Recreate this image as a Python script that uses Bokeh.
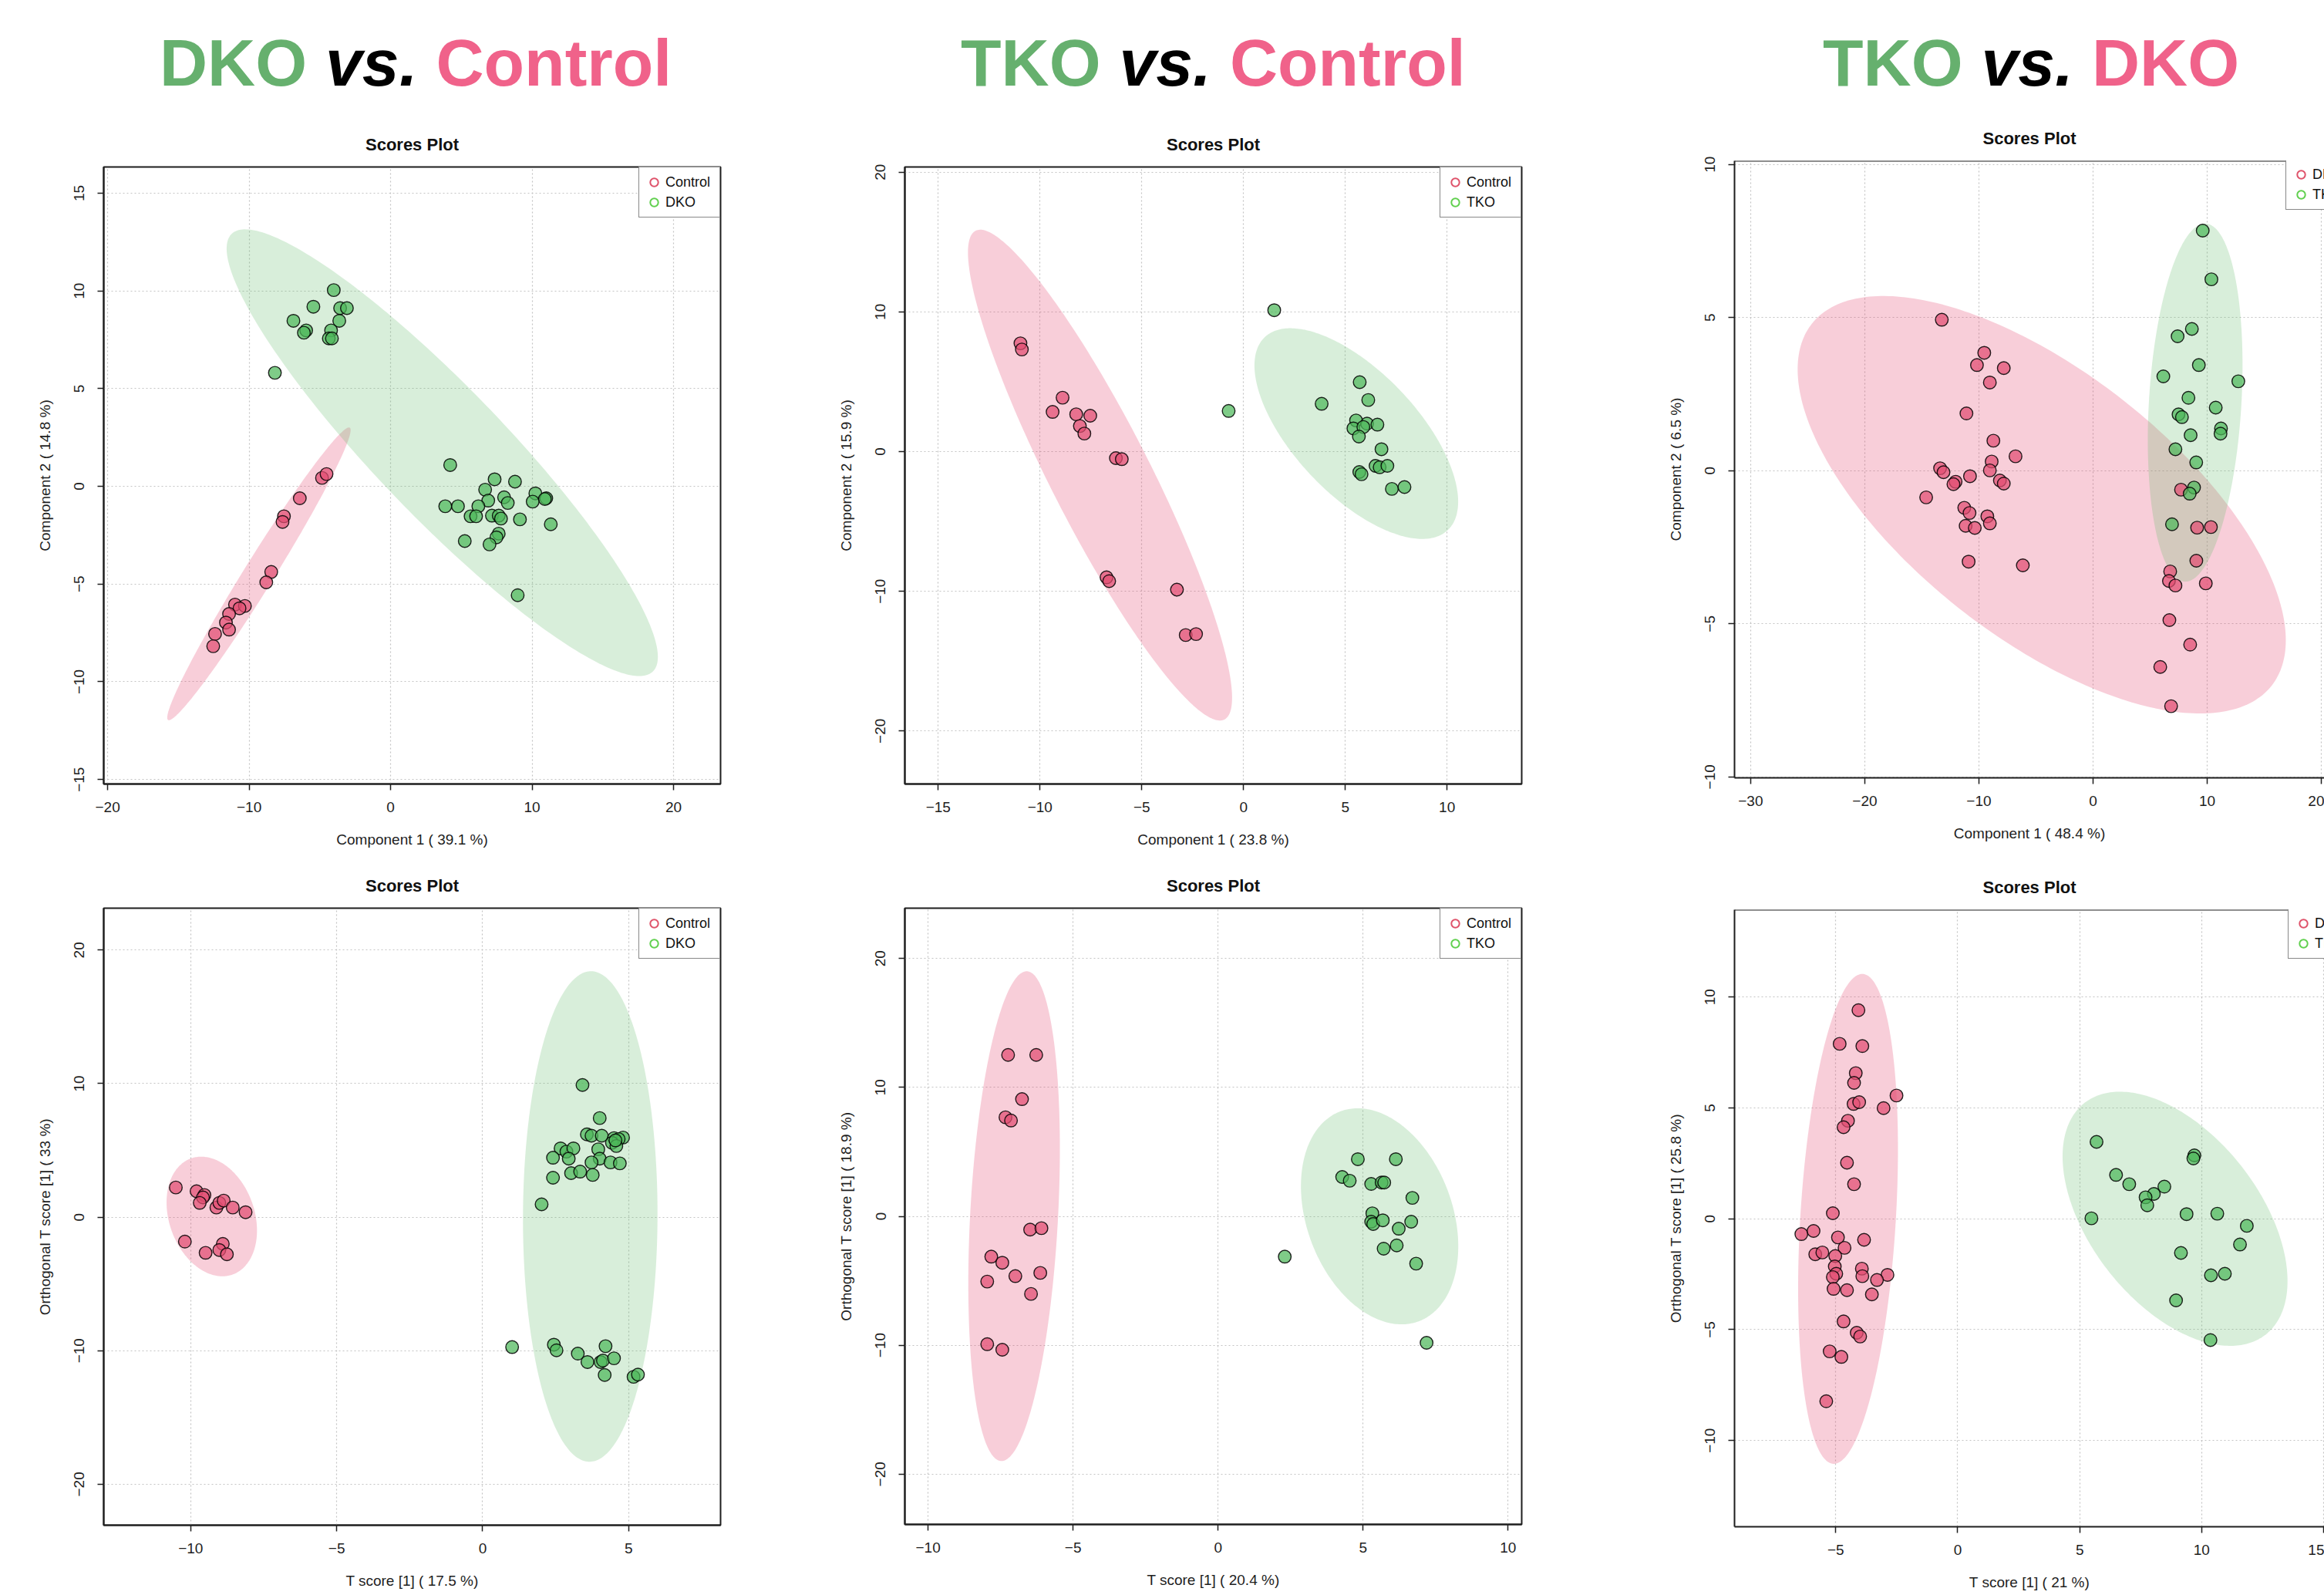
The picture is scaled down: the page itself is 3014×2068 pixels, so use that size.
import numpy as np
from bokeh.plotting import figure
from bokeh.models import Range1d, FixedTicker, Legend, LegendItem, Span, Div
from bokeh.layouts import column, row
from bokeh.embed import file_html
from bokeh.resources import INLINE

# ---------------- data ----------------
# Panel 1: DKO vs Control, PLS-DA
p1_control_x = [-4.85, -4.53, -6.42, -7.54, -7.64, -8.44, -8.79, -11.00, -10.30, -10.68, -11.42, -11.64, -11.42, -12.41, -12.54]
p1_control_y = [0.43, 0.63, -0.61, -1.53, -1.82, -4.38, -4.91, -6.05, -6.12, -6.24, -6.53, -6.97, -7.33, -7.55, -8.18]
p1_dko_x = [-4.02, -5.46, -3.57, -3.09, -6.87, -5.97, -6.13, -3.63, -4.21, -4.37, -4.15, -8.18,
            4.21, 7.35, 8.79, 6.68, 10.23, 11.00, 10.90, 8.02, 10.04, 6.90, 8.28, 3.86, 4.76, 6.20,
            5.65, 6.04, 7.16, 7.64, 7.80, 9.14, 11.32, 7.64, 7.48, 5.24, 6.99, 8.98]
p1_dko_y = [10.04, 9.19, 9.12, 9.12, 8.47, 7.98, 7.86, 8.47, 7.98, 7.57, 7.57, 5.81,
            1.09, 0.36, 0.24, -0.17, -0.36, -0.61, -0.65, -0.56, -0.78, -0.73, -0.85, -1.02, -1.02, -1.02,
            -1.53, -1.53, -1.50, -1.50, -1.65, -1.69, -1.94, -2.42, -2.61, -2.80, -2.97, -5.57]

# Panel 2: TKO vs Control, PLS-DA
p2_control_x = [-10.96, -10.89, -8.89, -9.38, -8.22, -7.53, -8.04, -7.82, -6.27, -5.98, -6.73, -6.60, -3.27, -2.84, -2.33]
p2_control_y = [7.75, 7.31, 3.86, 2.84, 2.67, 2.57, 1.83, 1.29, -0.47, -0.54, -9.00, -9.27, -9.88, -13.13, -13.06]
p2_tko_x = [1.51, -0.73, 5.71, 3.84, 6.13, 5.53, 6.07, 6.58, 5.40, 5.89, 5.67, 6.78, 6.49, 6.69, 7.07, 5.69, 5.80, 7.29, 7.91]
p2_tko_y = [10.12, 2.91, 4.97, 3.42, 3.69, 2.23, 2.00, 1.93, 1.66, 1.76, 1.08, 0.17, -1.02, -1.12, -1.02, -1.46, -1.62, -2.67, -2.54]

# Panel 3: TKO vs DKO, PLS-DA
p3_dko_x = [-13.25, -9.53, -10.17, -7.82, -9.04, -11.09, -8.73, -6.79, -8.88, -13.40, -13.10, -9.04, -10.78,
            -12.04, -12.23, -8.16, -7.82, -14.62, -11.28, -10.82, -9.26, -9.04, -11.16, -10.36, -10.90, -6.15,
            7.71, 9.12, 10.33, 9.05, 6.76, 6.65, 7.22, 9.88, 6.69, 8.51, 5.89, 6.84]
p3_dko_y = [4.93, 3.85, 3.45, 3.35, 2.88, 1.87, 0.98, 0.47, 0.30, 0.08, -0.05, 0.01, -0.18,
            -0.36, -0.44, -0.32, -0.42, -0.87, -1.21, -1.38, -1.49, -1.72, -1.80, -1.87, -2.97, -3.09,
            -0.62, -1.86, -1.84, -2.94, -3.29, -3.60, -3.75, -3.68, -4.88, -5.68, -6.41, -7.69]
p3_tko_x = [9.61, 10.37, 8.66, 7.41, 9.27, 6.16, 12.73, 8.36, 10.75, 7.49, 7.79, 11.21, 11.17, 8.55, 7.22, 9.04, 8.85, 8.47, 6.92]
p3_tko_y = [7.84, 6.25, 4.63, 4.39, 3.45, 3.08, 2.92, 2.38, 2.06, 1.84, 1.75, 1.38, 1.21, 1.16, 0.70, 0.27, -0.55, -0.75, -1.75]

# Panel 4: DKO vs Control, OPLS-DA
p4_control_x = [-10.51, -9.80, -9.53, -9.58, -9.69, -9.12, -9.02, -8.87, -8.56, -8.12, -10.20, -8.90, -9.02, -9.49, -8.76]
p4_control_y = [2.22, 1.94, 1.66, 1.48, 1.07, 0.72, 1.07, 1.24, 0.72, 0.37, -1.83, -2.00, -2.46, -2.67, -2.78]
p4_dko_x = [3.42, 4.01, 3.57, 3.73, 4.08, 4.50, 4.81, 4.66, 4.43, 4.58, 3.96, 2.67, 2.87, 3.11, 2.41, 2.95,
            4.01, 3.73, 4.38, 4.70, 3.03, 3.34, 3.77, 2.41, 2.02, 4.55,
            1.01, 2.44, 2.53, 3.26, 3.59, 4.21, 4.04, 4.12, 4.50, 4.18, 5.17, 5.32]
p4_dko_y = [9.90, 7.42, 6.20, 6.10, 6.10, 5.92, 5.96, 5.85, 5.57, 5.33, 5.08, 5.15, 4.91, 5.15, 4.45, 4.38,
            4.38, 4.10, 4.10, 4.03, 3.30, 3.41, 3.16, 2.95, 0.96, 5.75,
            -9.73, -9.55, -9.97, -10.22, -10.85, -9.66, -10.85, -10.74, -10.57, -11.82, -11.96, -11.79]

# Panel 5: TKO vs Control, OPLS-DA
p5_control_x = [-7.24, -6.27, -6.76, -7.33, -7.14, -6.48, -6.09, -7.82, -7.44, -6.99, -6.13, -7.96, -6.45, -7.96, -7.44]
p5_control_y = [12.52, 12.52, 9.09, 7.68, 7.43, -1.03, -0.92, -3.13, -3.60, -4.64, -4.39, -5.06, -6.02, -9.92, -10.35]
p5_tko_x = [4.82, 6.13, 4.28, 4.54, 5.28, 5.64, 5.73, 6.70, 5.32, 5.28, 5.35, 5.68, 6.23, 6.66, 5.71, 6.16, 6.83, 2.30, 7.19]
p5_tko_y = [4.43, 4.43, 3.05, 2.76, 2.51, 2.62, 2.62, 1.43, 0.23, -0.42, -0.60, -0.31, -0.96, -0.42, -2.51, -2.26, -3.67, -3.13, -9.81]

# Panel 6: TKO vs DKO, OPLS-DA
p6_dko_x = [-4.07, -4.84, -3.91, -4.18, -4.25, -2.51, -4.27, -4.04, -3.04, -4.50, -4.68, -4.54, -4.25,
            -5.12, -6.41, -5.91, -4.91, -3.84, -4.64, -5.84, -5.55, -5.02, -5.04, -3.93, -4.98, -5.12,
            -3.91, -2.88, -3.31, -5.09, -4.54, -3.52, -4.68, -4.14, -4.00, -5.25, -4.77, -5.39]
p6_dko_y = [9.41, 7.89, 7.79, 6.57, 6.13, 5.56, 5.18, 5.26, 4.99, 4.42, 4.13, 2.53, 1.56,
            0.25, -0.69, -0.55, -0.84, -0.95, -1.31, -1.60, -1.52, -1.68, -2.15, -2.25, -2.48, -2.63,
            -2.59, -2.53, -2.76, -3.16, -3.22, -3.41, -4.63, -5.14, -5.31, -5.98, -6.23, -8.23]
p6_tko_x = [5.69, 9.70, 9.66, 6.49, 7.03, 8.47, 8.04, 7.70, 7.77, 5.48, 9.38, 10.64, 11.85, 11.57, 9.15, 10.38, 10.95, 8.95, 10.36]
p6_tko_y = [3.47, 2.86, 2.72, 1.98, 1.56, 1.45, 1.12, 0.97, 0.61, 0.02, 0.21, 0.23, -0.32, -1.16, -1.54, -2.55, -2.48, -3.68, -5.47]

# headers and labels
header_first = ["DKO", "TKO", "TKO"]
header_second = ["Control", "Control", "DKO"]
legend_labels = [["Control", "DKO"], ["Control", "TKO"], ["DKO", "TKO"],
                 ["Control", "DKO"], ["Control", "TKO"], ["DKO", "TKO"]]
x_labels = ["Component 1 ( 39.1 %)", "Component 1 ( 23.8 %)", "Component 1 ( 48.4 %)",
            "T score [1] ( 17.5 %)", "T score [1] ( 20.4 %)", "T score [1] ( 21 %)"]
y_labels = ["Component 2 ( 14.8 %)", "Component 2 ( 15.9 %)", "Component 2 ( 6.5 %)",
            "Orthogonal T score [1] ( 33 %)", "Orthogonal T score [1] ( 18.9 %)", "Orthogonal T score [1] ( 25.8 %)"]
x_ticks = [[-20, -10, 0, 10, 20], [-15, -10, -5, 0, 5, 10], [-30, -20, -10, 0, 10, 20],
           [-10, -5, 0, 5], [-10, -5, 0, 5, 10], [-5, 0, 5, 10, 15]]
y_ticks = [[-15, -10, -5, 0, 5, 10, 15], [-20, -10, 0, 10, 20], [-10, -5, 0, 5, 10],
           [-20, -10, 0, 10, 20], [-20, -10, 0, 10, 20], [-10, -5, 0, 5, 10]]
x_limits = [(-20.28, 23.32), (-16.64, 13.67), (-31.41, 20.27),
            (-12.98, 8.15), (-10.80, 10.47), (-9.15, 15.03)]
y_limits = [(-15.23, 16.34), (-23.79, 20.37), (-10.03, 10.12),
            (-23.07, 23.14), (-23.90, 23.90), (-13.89, 13.94)]

# ---------------- styling ----------------
FONT = "Liberation Sans"
POINT_COLORS = ["#E24D72", "#4DB85A"]
ELLIPSE_COLORS = ["#E23D66", "#63BB6B"]
LEGEND_COLORS = ["#DF536B", "#61D04F"]
TITLE_GREEN = "#66B06E"
TITLE_PINK = "#F0628A"
AXIS_COL = "#1E1E1E"
CHI2_95_2DF = -2.0 * np.log(0.05)  # qchisq(0.95, 2)


def conf_ellipse(x, y, n=300):
    """95% normal-theory confidence ellipse of a group of scores."""
    x = np.asarray(x, float)
    y = np.asarray(y, float)
    cov = np.cov(np.vstack([x, y]))
    L = np.linalg.cholesky(cov)
    t = np.linspace(0, 2 * np.pi, n)
    pts = (L @ np.vstack([np.cos(t), np.sin(t)])) * np.sqrt(CHI2_95_2DF)
    return x.mean() + pts[0], y.mean() + pts[1]


def panel(idx, groups, width, height, bl, br, bt, bb, clipped=False, legend_loc=None):
    p = figure(width=width, height=height,
               x_range=Range1d(*x_limits[idx]), y_range=Range1d(*y_limits[idx]),
               output_backend="svg", toolbar_location=None, title="Scores Plot",
               min_border_left=bl, min_border_right=br, min_border_top=bt, min_border_bottom=bb)
    p.title.align = "center"
    p.title.text_font = FONT
    p.title.text_font_size = "22px"
    p.title.text_font_style = "bold"
    p.title.text_color = "#111111"
    p.title.standoff = 34
    p.background_fill_color = "white"
    p.border_fill_color = "white"

    xt = FixedTicker(ticks=x_ticks[idx])
    yt = FixedTicker(ticks=y_ticks[idx])
    p.xaxis.ticker = xt
    p.yaxis.ticker = yt
    p.xgrid.ticker = xt
    p.ygrid.ticker = yt
    for g in (p.xgrid, p.ygrid):
        g.grid_line_color = "#C4C4C4"
        g.grid_line_dash = "2 3"
        g.grid_line_width = 1.2

    p.xaxis.axis_label = x_labels[idx]
    p.yaxis.axis_label = y_labels[idx]
    for ax in (p.xaxis, p.yaxis):
        ax.major_label_text_font = FONT
        ax.major_label_text_font_size = "19px"
        ax.major_label_text_color = AXIS_COL
        ax.axis_label_text_font = FONT
        ax.axis_label_text_font_size = "19px"
        ax.axis_label_text_font_style = "normal"
        ax.axis_label_text_color = AXIS_COL
        ax.minor_tick_line_color = None
        ax.major_tick_in = 0
        ax.major_tick_out = 8
        ax.major_tick_line_color = AXIS_COL
        ax.major_tick_line_width = 1.5
        ax.axis_line_color = AXIS_COL
        ax.axis_line_width = 2
    p.xaxis.major_label_standoff = 15
    p.xaxis.axis_label_standoff = 22
    p.yaxis.major_label_standoff = 17
    p.yaxis.axis_label_standoff = 25
    p.yaxis.major_label_orientation = "vertical"

    if clipped:
        p.outline_line_color = None
        p.add_layout(Span(location=y_limits[idx][1], dimension="width",
                          line_color=AXIS_COL, line_width=2))
    else:
        p.outline_line_color = AXIS_COL
        p.outline_line_width = 2

    # ellipses first
    for (gx, gy), c in zip(groups, ELLIPSE_COLORS):
        ex, ey = conf_ellipse(gx, gy)
        p.patch(ex, ey, fill_color=c, fill_alpha=0.25, line_color=None)
    # points
    for (gx, gy), c in zip(groups, POINT_COLORS):
        p.scatter(gx, gy, marker="circle", size=16.5, fill_color=c, fill_alpha=0.72,
                  line_color="black", line_width=1.4, line_alpha=0.85)

    # legend with hollow circles (legend-only renderers hold a single NaN point)
    items = []
    for lab, c in zip(legend_labels[idx], LEGEND_COLORS):
        r = p.scatter(x=[np.nan], y=[np.nan], marker="circle", size=10, fill_color=None,
                      line_color=c, line_width=2)
        items.append(LegendItem(label=lab, renderers=[r]))
    leg = Legend(items=items, location=legend_loc if legend_loc is not None else "top_right")
    leg.margin = 0
    leg.padding = 6
    leg.spacing = 0
    leg.glyph_width = 26
    leg.glyph_height = 26
    leg.label_height = 26
    leg.label_width = 64
    leg.label_standoff = 2
    leg.label_text_font = FONT
    leg.label_text_font_size = "18px"
    leg.label_text_color = "#111111"
    leg.border_line_color = "#111111"
    leg.border_line_width = 1.6
    leg.background_fill_color = "white"
    leg.background_fill_alpha = 1.0
    p.add_layout(leg)
    return p


# ---------------- header ----------------
def header(i, width, pad_left):
    html = (
        f'<div style="padding-left:{pad_left}px;padding-top:38px;'
        f"font-family:'Liberation Sans',Arial,sans-serif;font-size:86px;font-weight:bold;"
        f'line-height:86px;white-space:nowrap;">'
        f'<span style="color:{TITLE_GREEN}">{header_first[i]}</span> '
        f'<span style="color:#000000;font-style:italic">vs.</span> '
        f'<span style="color:{TITLE_PINK}">{header_second[i]}</span></div>'
    )
    return Div(text=html, width=width, height=140, margin=(0, 0, 0, 0))


W1, W2, W3 = 1040, 1070, 904
H_TOP, H_BOT = 976, 952

h1 = header(0, W1, 207)
h2 = header(1, W2, 206)
h3 = header(2, W3, 254)

p1 = panel(0, [(p1_control_x, p1_control_y), (p1_dko_x, p1_dko_y)], W1, H_TOP, 134, 106, 76, 100)
p2 = panel(1, [(p2_control_x, p2_control_y), (p2_tko_x, p2_tko_y)], W2, H_TOP, 133, 137, 76, 100)
p3 = panel(2, [(p3_dko_x, p3_dko_y), (p3_tko_x, p3_tko_y)], W3, H_TOP, 137, 0, 68, 108,
           clipped=True, legend_loc=(715, 736))

p4 = panel(3, [(p4_control_x, p4_control_y), (p4_dko_x, p4_dko_y)], W1, H_BOT, 134, 106, 61, 91)
p5 = panel(4, [(p5_control_x, p5_control_y), (p5_tko_x, p5_tko_y)], W2, H_BOT, 133, 137, 60, 92)
p6 = panel(5, [(p6_dko_x, p6_dko_y), (p6_tko_x, p6_tko_y)], W3, H_BOT, 139, 0, 63, 89,
           clipped=True, legend_loc=(718, 736))

# one column per comparison, so that each plot keeps its own borders
layout = row(column(h1, p1, p4), column(h2, p2, p5), column(h3, p3, p6))

open("out.html", "w").write(file_html(layout, INLINE))
